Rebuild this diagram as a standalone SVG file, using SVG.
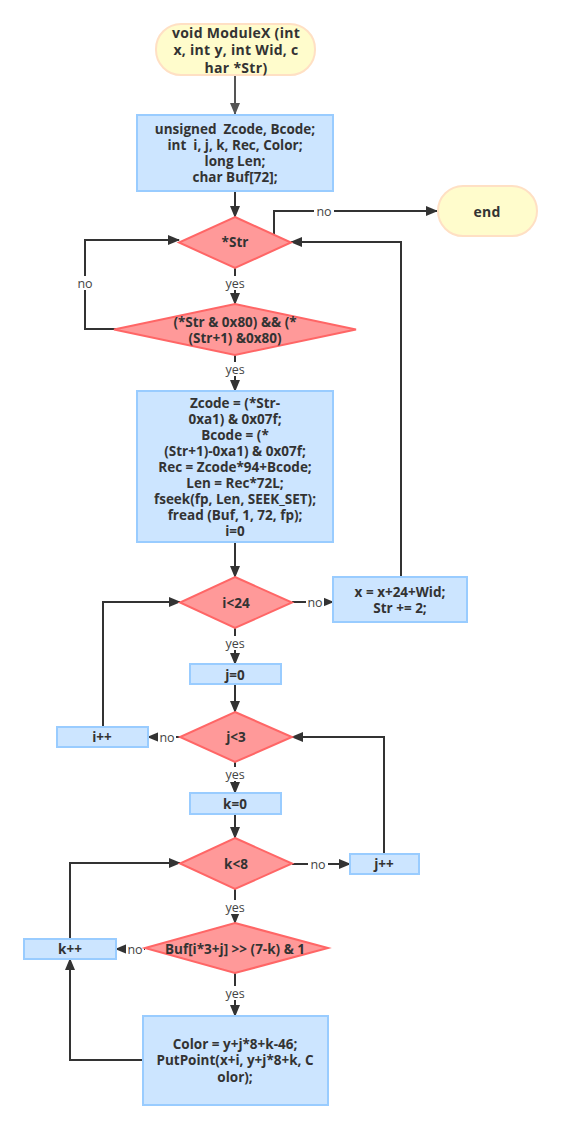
<svg xmlns="http://www.w3.org/2000/svg" width="562" height="1129" viewBox="0 0 562 1129">
<style>
.term{fill:#fffccc;stroke:#ffe0c4;stroke-width:2}
.proc{fill:#cce5ff;stroke:#99ccff;stroke-width:2}
.dec{fill:#ff9999;stroke:#ff6666;stroke-width:2}
.t{font-family:"Open Sans","Liberation Sans",sans-serif;font-weight:bold;font-size:13.5px;fill:#333;text-anchor:middle;dominant-baseline:central;white-space:pre}
.big{font-size:14px;letter-spacing:0.3px}
.e{fill:none;stroke:#333;stroke-width:2;marker-end:url(#ah)}
.lb{font-family:"Open Sans","Liberation Sans",sans-serif;font-size:12.5px;fill:#444;text-anchor:middle;dominant-baseline:central}
.bg{fill:#fff}
</style>
<defs>
<marker id="ah" markerUnits="userSpaceOnUse" markerWidth="12" markerHeight="10" refX="11" refY="5" orient="auto">
<path d="M0,0 L12,5 L0,10 z" fill="#333"/>
</marker>
<marker id="ah2" markerUnits="userSpaceOnUse" markerWidth="12" markerHeight="10" refX="11" refY="5" orient="auto">
<path d="M0,0 L12,5 L0,10 z" fill="#555"/>
</marker>
</defs>
<rect width="562" height="1129" fill="#fff"/>
<g id="connectors">
<path d="M235,75 L235,114" style="fill:none;stroke:#555;stroke-width:2;marker-end:url(#ah2)"/>
<path class="e" d="M235,191 L235,217"/>
<path class="e" d="M235,268 L235,304"/>
<path class="e" d="M274,235 L274,211 L437,211"/>
<path class="e" d="M116,329 L85,329 L85,240 L179,240"/>
<path class="e" d="M401,577 L401,242 L291,242"/>
<path class="e" d="M235,355 L235,391"/>
<path class="e" d="M235,542 L235,577"/>
<path class="e" d="M292,602 L333,602"/>
<path class="e" d="M235,628 L235,664"/>
<path class="e" d="M235,684 L235,712"/>
<path class="e" d="M180,737 L148,737"/>
<path class="e" d="M103,727 L103,602 L180,602"/>
<path class="e" d="M235,762 L235,793"/>
<path class="e" d="M235,814 L235,838"/>
<path class="e" d="M292,864 L350,864"/>
<path class="e" d="M384,854 L384,737 L292,737"/>
<path class="e" d="M235,889 L235,923"/>
<path class="e" d="M145,949 L116,949"/>
<path class="e" d="M70,939 L70,863 L180,863"/>
<path class="e" d="M235,973 L235,1016"/>
<path class="e" d="M143,1060 L70,1060 L70,959"/>
<rect class="bg" x="314" y="204" width="20" height="14"/><text class="lb" x="324" y="211">no</text>
<rect class="bg" x="75" y="276" width="20" height="14"/><text class="lb" x="85" y="283">no</text>
<rect class="bg" x="224" y="276" width="22" height="14"/><text class="lb" x="235" y="283">yes</text>
<rect class="bg" x="224" y="362" width="22" height="14"/><text class="lb" x="235" y="369">yes</text>
<rect class="bg" x="306" y="595" width="18" height="14"/><text class="lb" x="315" y="602">no</text>
<rect class="bg" x="224" y="636" width="22" height="14"/><text class="lb" x="235" y="643">yes</text>
<rect class="bg" x="158" y="730" width="18" height="14"/><text class="lb" x="167" y="737">no</text>
<rect class="bg" x="224" y="767" width="22" height="14"/><text class="lb" x="235" y="774">yes</text>
<rect class="bg" x="308" y="857" width="20" height="14"/><text class="lb" x="318" y="864">no</text>
<rect class="bg" x="224" y="900" width="22" height="14"/><text class="lb" x="235" y="907">yes</text>
<rect class="bg" x="126" y="942" width="18" height="14"/><text class="lb" x="135" y="949">no</text>
<rect class="bg" x="224" y="986" width="22" height="14"/><text class="lb" x="235" y="993">yes</text>
</g>
<g id="start">
<rect class="term" x="156" y="24" width="159" height="51" rx="25" ry="25"/>
<text class="t big" x="236" y="32">void ModuleX (int</text>
<text class="t big" x="236" y="49.5">x, int y, int Wid, c</text>
<text class="t big" x="236" y="67">har *Str)</text>
</g>
<g id="decl">
<rect class="proc" x="137" y="115" width="196" height="76"/>
<text class="t" x="235" y="129" xml:space="preserve">unsigned  Zcode, Bcode;</text>
<text class="t" x="235" y="145" xml:space="preserve">int  i, j, k, Rec, Color;</text>
<text class="t" x="235" y="161">long Len;</text>
<text class="t" x="235" y="177">char Buf[72];</text>
</g>
<g id="strTest">
<path class="dec" d="M235,217 L291,242.5 L235,268 L179,242.5 Z"/>
<text class="t" x="235" y="242">*Str</text>
</g>
<g id="end">
<rect class="term" x="438" y="186" width="99" height="50" rx="25" ry="25"/>
<text class="t big" x="487" y="211">end</text>
</g>
<g id="hzTest">
<path class="dec" d="M235,304 L356,329.5 L235,355 L114,329.5 Z"/>
<text class="t" x="235" y="322">(*Str &amp; 0x80) &amp;&amp; (*</text>
<text class="t" x="235" y="338">(Str+1) &amp;0x80)</text>
</g>
<g id="calc">
<rect class="proc" x="137" y="391" width="196" height="151"/>
<text class="t" x="235" y="403">Zcode = (*Str-</text>
<text class="t" x="235" y="419">0xa1) &amp; 0x07f;</text>
<text class="t" x="235" y="435">Bcode = (*</text>
<text class="t" x="235" y="451">(Str+1)-0xa1) &amp; 0x07f;</text>
<text class="t" x="235" y="467">Rec = Zcode*94+Bcode;</text>
<text class="t" x="235" y="483">Len = Rec*72L;</text>
<text class="t" x="235" y="499">fseek(fp, Len, SEEK_SET);</text>
<text class="t" x="235" y="515">fread (Buf, 1, 72, fp);</text>
<text class="t" x="235" y="531">i=0</text>
</g>
<g id="iTest">
<path class="dec" d="M235,577 L292,602.5 L235,628 L180,602.5 Z"/>
<text class="t" x="236" y="603">i&lt;24</text>
</g>
<g id="advance">
<rect class="proc" x="333" y="577" width="134" height="45"/>
<text class="t" x="400" y="592">x = x+24+Wid;</text>
<text class="t" x="400" y="608">Str += 2;</text>
</g>
<g id="j0">
<rect class="proc" x="190" y="664" width="91" height="20"/>
<text class="t" x="235" y="675">j=0</text>
</g>
<g id="jTest">
<path class="dec" d="M235,712 L292,737 L235,762 L180,737 Z"/>
<text class="t" x="236" y="737">j&lt;3</text>
</g>
<g id="iInc">
<rect class="proc" x="57" y="727" width="91" height="20"/>
<text class="t" x="102" y="737">i++</text>
</g>
<g id="k0">
<rect class="proc" x="190" y="793" width="91" height="21"/>
<text class="t" x="235" y="804">k=0</text>
</g>
<g id="kTest">
<path class="dec" d="M235,838 L292,863.5 L235,889 L180,863.5 Z"/>
<text class="t" x="236" y="864">k&lt;8</text>
</g>
<g id="jInc">
<rect class="proc" x="350" y="854" width="69" height="20"/>
<text class="t" x="384" y="864">j++</text>
</g>
<g id="bitTest">
<path class="dec" d="M235,923 L328,948 L235,973 L145,948 Z"/>
<text class="t" x="235" y="949">Buf[i*3+j] &gt;&gt; (7-k) &amp; 1</text>
</g>
<g id="kInc">
<rect class="proc" x="24" y="939" width="92" height="20"/>
<text class="t" x="70" y="949">k++</text>
</g>
<g id="draw">
<rect class="proc" x="143" y="1016" width="185" height="89"/>
<text class="t" x="235" y="1044">Color = y+j*8+k-46;</text>
<text class="t" x="235" y="1060">PutPoint(x+i, y+j*8+k, C</text>
<text class="t" x="235" y="1077">olor);</text>
</g>
</svg>
